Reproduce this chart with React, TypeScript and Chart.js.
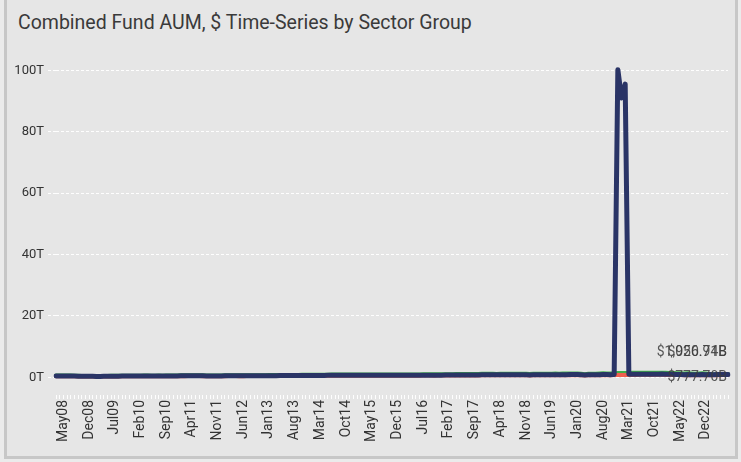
import React, { useEffect, useRef } from 'react';
import { Chart, registerables } from 'chart.js';

Chart.register(...registerables);

// Monthly categories: Mar 2008 .. Jun 2023
const MONTH_NAMES = ['Jan', 'Feb', 'Mar', 'Apr', 'May', 'Jun', 'Jul', 'Aug', 'Sep', 'Oct', 'Nov', 'Dec'];
const START_YEAR = 2008;
const START_MONTH = 2; // March
const LABEL_EVERY = 7;
const LABEL_OFFSET = 2; // first shown label: May08

// Values in $ billions
const sectorGreen = [
  560, 575, 590, 570, 545, 530, 490, 440, 410, 420,
  400, 370, 385, 410, 440, 460, 480, 500, 510, 505, 525, 535,
  530, 540, 555, 565, 535, 530, 550, 540, 570, 590, 590, 610,
  625, 640, 645, 660, 660, 645, 640, 605, 580, 605, 605, 615,
  635, 650, 660, 655, 635, 645, 650, 665, 680, 675, 680, 690,
  715, 725, 740, 750, 760, 745, 770, 760, 785, 805, 820, 830,
  825, 845, 850, 855, 865, 880, 875, 890, 880, 895, 910, 910,
  905, 925, 925, 930, 940, 925, 935, 890, 875, 910, 915, 905,
  875, 875, 915, 925, 930, 935, 960, 960, 960, 950, 965, 980,
  995, 1015, 1020, 1030, 1045, 1050, 1065, 1075, 1090, 1105, 1120, 1130,
  1170, 1135, 1110, 1115, 1125, 1135, 1155, 1165, 1165, 1115, 1120, 1060,
  1115, 1145, 1150, 1180, 1145, 1190, 1195, 1180, 1195, 1210, 1235, 1255,
  1250, 1160, 1020, 1120, 1160, 1185, 1230, 1275, 1245, 1230, 1330, 1365,
  1380, 1390, 1410, 1445, 1450, 1455, 1465, 1490, 1445, 1495, 1480, 1510,
  1455, 1410, 1420, 1320, 1305, 1215, 1275, 1245, 1170, 1215, 1275, 1230,
  1080, 1010, 1020, 1030, 1040, 1050.91,
];

const sectorRed = [
  330, 340, 350, 340, 325, 315, 290, 260, 245, 250,
  235, 220, 228, 245, 260, 272, 285, 296, 305, 300, 312, 318,
  312, 320, 328, 332, 316, 312, 325, 320, 336, 348, 348, 360,
  368, 375, 380, 388, 388, 380, 376, 356, 340, 356, 356, 360,
  372, 380, 388, 384, 372, 376, 380, 388, 396, 392, 396, 400,
  415, 420, 428, 435, 440, 432, 443, 440, 452, 463, 471, 475,
  471, 483, 487, 487, 495, 503, 499, 507, 503, 511, 519, 519,
  515, 527, 527, 531, 535, 527, 531, 507, 499, 519, 523, 515,
  499, 499, 523, 527, 531, 531, 547, 547, 547, 539, 547, 555,
  562, 574, 578, 582, 590, 594, 602, 606, 614, 622, 630, 634,
  657, 638, 626, 630, 634, 638, 650, 654, 654, 626, 630, 594,
  626, 642, 646, 662, 642, 666, 670, 662, 670, 678, 690, 701,
  697, 650, 570, 626, 646, 658, 682, 705, 690, 682, 737, 745,
  752, 758, 760, 780, 784, 788, 792, 804, 780, 808, 800, 816,
  784, 760, 768, 713, 705, 658, 690, 674, 634, 658, 690, 666,
  697, 682, 690, 701, 713, 777.70,
];

const sectorNavy = [
  420, 430, 445, 430, 410, 400, 370, 330, 310, 315,
  300, 280, 290, 310, 330, 345, 360, 375, 385, 380, 395, 400,
  395, 405, 415, 420, 400, 395, 410, 405, 425, 440, 440, 455,
  465, 475, 480, 490, 490, 480, 475, 450, 430, 450, 450, 455,
  470, 480, 490, 485, 470, 475, 480, 490, 500, 495, 500, 505,
  525, 530, 540, 550, 555, 545, 560, 555, 570, 585, 595, 600,
  595, 610, 615, 615, 625, 635, 630, 640, 635, 645, 655, 655,
  650, 665, 665, 670, 675, 665, 670, 640, 630, 655, 660, 650,
  630, 630, 660, 665, 670, 670, 690, 690, 690, 680, 690, 700,
  710, 725, 730, 735, 745, 750, 760, 765, 775, 785, 795, 800,
  830, 805, 790, 795, 800, 805, 820, 825, 825, 790, 795, 750,
  790, 810, 815, 835, 810, 840, 845, 835, 845, 855, 870, 885,
  880, 820, 720, 790, 815, 830, 860, 890, 870, 860, 930, 100200,
  91000, 95500, 960, 985, 990, 995, 1000, 1015, 985, 1020, 1010, 1030,
  990, 960, 970, 900, 890, 830, 870, 850, 800, 830, 870, 840,
  880, 860, 870, 885, 900, 926.74,
];

const yTickValues = [0, 20000, 40000, 60000, 80000, 100000];

const categories = sectorNavy.map((_, i) => {
  const k = START_MONTH + i;
  const m = k % 12;
  const y = START_YEAR + Math.floor(k / 12);
  return MONTH_NAMES[m] + String(y % 100).padStart(2, '0');
});

const FONT = 'Roboto, "Noto Sans", sans-serif';

const lastValueLabels = {
  id: 'lastValueLabels',
  afterDatasetsDraw(chart: any) {
    const ctx = chart.ctx;
    ctx.save();
    ctx.font = `14px ${FONT}`;
    ctx.fillStyle = 'rgba(60,60,60,0.85)';
    ctx.textAlign = 'right';
    ctx.textBaseline = 'middle';
    chart.data.datasets.forEach((ds: any, i: number) => {
      const meta = chart.getDatasetMeta(i);
      const pt = meta.data[meta.data.length - 1];
      const v = ds.data[ds.data.length - 1];
      const txt = '$' + v.toLocaleString('en-US', { minimumFractionDigits: 2, maximumFractionDigits: 2 }) + 'B';
      ctx.fillText(txt, pt.x - 1, pt.y + (ds.labelOffset || 0));
    });
    ctx.restore();
  },
};

export default function App() {
  const ref = useRef<HTMLCanvasElement | null>(null);

  useEffect(() => {
    document.body.style.margin = '0';
    document.body.style.background = '#ebebeb';
    const canvas = ref.current;
    if (!canvas) return;
    const chart = new Chart(canvas, {
      type: 'line',
      data: {
        labels: categories,
        datasets: [
          {
            label: 'Green',
            data: sectorGreen,
            borderColor: '#3fae48',
            borderWidth: 4,
            order: 2,
            labelOffset: -22,
          } as any,
          {
            label: 'Navy',
            data: sectorNavy,
            borderColor: '#2a3466',
            borderWidth: 5,
            order: 0,
            labelOffset: -22,
          } as any,
          {
            label: 'Red',
            data: sectorRed,
            borderColor: '#f0604f',
            borderWidth: 4,
            order: 1,
            labelOffset: 3,
          } as any,
        ],
      },
      options: {
        responsive: false,
        animation: false,
        events: [],
        elements: {
          point: { radius: 0 },
          line: { tension: 0, borderCapStyle: 'round', borderJoinStyle: 'round', fill: false },
        },
        layout: { padding: { left: 6, right: 6, top: 14, bottom: 0 } },
        plugins: {
          legend: { display: false },
          tooltip: { enabled: false },
          title: { display: false },
        },
        scales: {
          x: {
            type: 'category',
            offset: false,
            grid: {
              display: true,
              drawOnChartArea: false,
              drawTicks: true,
              tickLength: 4,
              color: 'rgba(255,255,255,0.95)',
              lineWidth: 1,
            },
            border: { display: false },
            ticks: {
              autoSkip: false,
              minRotation: 90,
              maxRotation: 90,
              padding: 1,
              color: '#333',
              font: { family: FONT, size: 14 },
              callback: (_v: any, i: number) =>
                (i - LABEL_OFFSET) % LABEL_EVERY === 0 && i >= LABEL_OFFSET ? categories[i] : '',
            },
            afterFit: (axis: any) => {
              axis.height = 61;
              axis.paddingLeft = 0;
              axis.paddingRight = 0;
            },
          },
          y: {
            type: 'linear',
            min: -5770,
            max: 105300,
            grid: {
              color: 'rgba(255,255,255,0.95)',
              lineWidth: 1,
              tickLength: 8,
              tickBorderDash: [3, 2],
            },
            border: { display: false, dash: [3, 2] },
            ticks: {
              color: '#333',
              padding: 4,
              font: { family: FONT, size: 13 },
              callback: (v: any) => `${Math.round(Number(v) / 1000)}T`,
            },
            afterBuildTicks: (axis: any) => {
              axis.ticks = yTickValues.map((value) => ({ value }));
            },
            afterFit: (axis: any) => {
              axis.width = 43;
            },
          },
        },
      },
      plugins: [lastValueLabels],
    });
    return () => chart.destroy();
  }, []);

  return (
    <div
      style={{
        position: 'absolute',
        left: 4,
        top: -3,
        width: 734,
        height: 462,
        boxSizing: 'border-box',
        border: '3px solid #c7c7c7',
        background: '#e6e6e6',
        overflow: 'hidden',
      }}
    >
      <div
        style={{
          position: 'absolute',
          left: 11,
          top: 12,
          fontFamily: FONT,
          fontSize: 19.5,
          lineHeight: '22px',
          color: '#3a3a3a',
          whiteSpace: 'nowrap',
        }}
      >
        Combined Fund AUM, $ Time-Series by Sector Group
      </div>
      <canvas
        ref={ref}
        width={727}
        height={416}
        style={{ position: 'absolute', left: 0, top: 40, display: 'block' }}
      />
    </div>
  );
}
